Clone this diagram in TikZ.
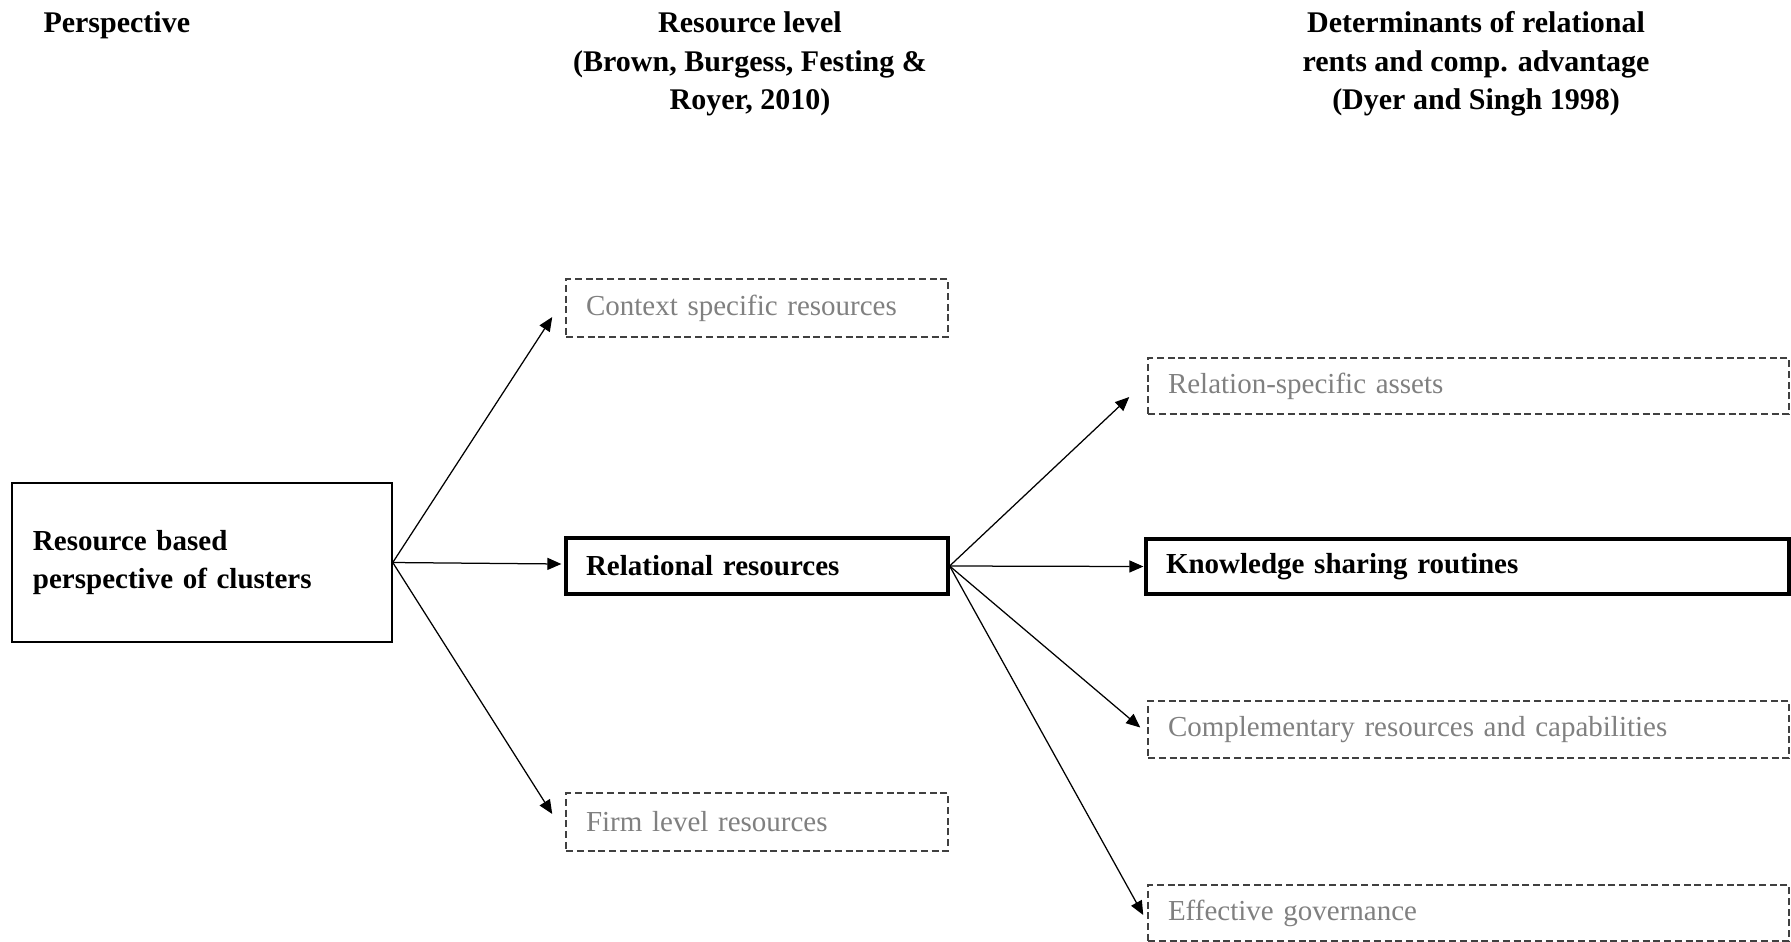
\documentclass[tikz,border=0pt]{standalone}
\usepackage{fontspec}
\setmainfont{Liberation Serif}
\usetikzlibrary{arrows.meta}
\definecolor{dimtext}{RGB}{128,128,128}
\definecolor{dimline}{RGB}{64,64,64}
\tikzset{
  txt/.style={font=\fontsize{11.6pt}{15.4pt}\selectfont},
  boldtxt/.style={font=\fontsize{11.6pt}{15.4pt}\selectfont\bfseries},
  head/.style={font=\fontsize{12pt}{15.4pt}\selectfont\bfseries, inner sep=0pt, align=center},
  plainbox/.style={draw, line width=0.6pt, boldtxt, align=left, inner xsep=8.4pt, inner ysep=0pt},
  keybox/.style={draw, line width=1.3pt, boldtxt, align=left, inner xsep=8pt, inner ysep=0pt},
  dimbox/.style={draw=dimline, line width=0.6pt, dash pattern=on 2.8pt off 1.5pt, text=dimtext, txt, align=left, inner xsep=8pt, inner ysep=0pt},
  arr/.style={line width=0.5pt, -{Triangle[length=5.6pt,width=4.8pt]}}
}
\begin{document}
\begin{tikzpicture}[x=0.4pt, y=-0.4pt]
  \useasboundingbox (0,0) rectangle (1791,941);

  % column headings
  \node[head, anchor=north west] (hpersp) at (43,11.3) {Perspective};
  \node[head, anchor=north] (hres) at (750,11.3) {Resource level\\(Brown, Burgess, Festing \&\\Royer, 2010)};
  \node[head, anchor=north] (hdet) at (1476,11.3) {Determinants of relational\\rents and comp. advantage\\(Dyer and Singh 1998)};

  % perspective
  \node[plainbox, text width=135.2pt, minimum height=63.6pt] (rbv) at (202,562.5) {Resource based\\perspective of clusters};

  % resource level
  \node[dimbox, text width=136.8pt, minimum height=23.2pt] (ctx) at (757,308) {Context specific resources};
  \node[keybox, text width=136.8pt, minimum height=22.4pt] (rel) at (757,566) {Relational resources};
  \node[dimbox, text width=136.8pt, minimum height=23.2pt] (firm) at (757,822) {Firm level resources};

  % determinants
  \node[dimbox, text width=240.4pt, minimum height=22.4pt] (rsa) at (1468.5,386) {Relation-specific assets};
  \node[keybox, text width=241.2pt, minimum height=22pt] (ksr) at (1467.5,566.5) {Knowledge sharing routines};
  \node[dimbox, text width=240.4pt, minimum height=22.8pt] (comp) at (1468.5,729.5) {Complementary resources and capabilities};
  \node[dimbox, text width=240.4pt, minimum height=22.4pt] (gov) at (1468.5,913) {Effective governance};

  % connectors
  \draw[arr] (rbv.east) -- ([shift={(-13,9)}]ctx.west);
  \draw[arr] (rbv.east) -- ([shift={(-3,-2)}]rel.west);
  \draw[arr] (rbv.east) -- ([shift={(-13,-8)}]firm.west);
  \draw[arr] (rel.east) -- ([shift={(-18,11)}]rsa.west);
  \draw[arr] (rel.east) -- ([shift={(-1,0)}]ksr.west);
  \draw[arr] (rel.east) -- ([shift={(-7,-2)}]comp.west);
  \draw[arr] (rel.east) -- ([shift={(-4,2)}]gov.west);
\end{tikzpicture}
\end{document}
